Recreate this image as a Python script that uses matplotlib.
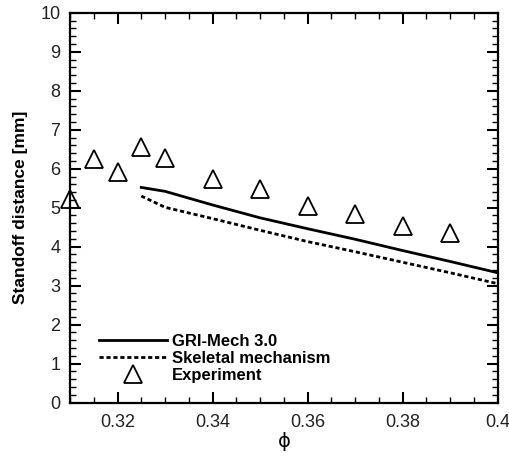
import numpy as np
import matplotlib
matplotlib.use('Agg')
import matplotlib.pyplot as plt
from matplotlib.ticker import MultipleLocator

plt.rcParams['font.family'] = ['Liberation Sans', 'DejaVu Sans']

# dados
phi_exp = [0.31, 0.315, 0.32, 0.325, 0.33, 0.34, 0.35, 0.36, 0.37, 0.38, 0.39]
dist_exp = [5.22, 6.25, 5.92, 6.55, 6.28, 5.73, 5.48, 5.05, 4.85, 4.53, 4.35]

phi_sim = [0.325, 0.33, 0.34, 0.35, 0.36, 0.37, 0.38, 0.39, 0.40]
dist_gri = [5.52, 5.42, 5.07, 4.74, 4.46, 4.19, 3.90, 3.62, 3.33]
dist_skel = [5.30, 5.01, 4.72, 4.42, 4.13, 3.87, 3.60, 3.33, 3.05]

fig = plt.figure(figsize=(5.09, 4.58), dpi=100)
ax = fig.add_axes([0.1375, 0.121, 0.8405, 0.851])

ax.plot(phi_sim, dist_gri, color='black', lw=2.0, label='GRI-Mech 3.0')
ax.plot(phi_sim, dist_skel, color='black', lw=2.0, dashes=(1.5, 1.0),
        label='Skeletal mechanism')
ax.plot(phi_exp, dist_exp, ls='none', marker='^', markersize=13,
        markerfacecolor='none', markeredgecolor='black', markeredgewidth=1.3,
        label='Experiment', clip_on=False)

ax.set_xlim(0.31, 0.4)
ax.set_ylim(0, 10)
ax.xaxis.set_major_locator(MultipleLocator(0.02))
ax.xaxis.set_minor_locator(MultipleLocator(0.005))
ax.yaxis.set_major_locator(MultipleLocator(1))
ax.yaxis.set_minor_locator(MultipleLocator(0.2))
ax.set_xticks([0.32, 0.34, 0.36, 0.38, 0.40])
ax.set_xticklabels(['0.32', '0.34', '0.36', '0.38', '0.4'])

ax.tick_params(which='both', direction='in', top=True, right=True,
               labelsize=13, labelcolor='#222222')
ax.tick_params(axis='x', pad=8)
ax.tick_params(axis='y', pad=7)
ax.tick_params(which='major', length=8, width=1.5)
ax.tick_params(which='minor', length=4, width=1.0)
for s in ax.spines.values():
    s.set_linewidth(1.6)

ax.set_xlabel('\u03d5', fontsize=14, family='DejaVu Sans', labelpad=1)
ax.set_ylabel('Standoff distance [mm]', fontsize=12.5, fontweight='bold',
              labelpad=9)

leg = ax.legend(loc='lower left', bbox_to_anchor=(0.04, 0.02), frameon=False,
                handlelength=4.1, handletextpad=0.3, labelspacing=0.12,
                borderpad=0.2, prop={'weight': 'bold', 'size': 12})

fig.savefig('out.png', dpi=100)
